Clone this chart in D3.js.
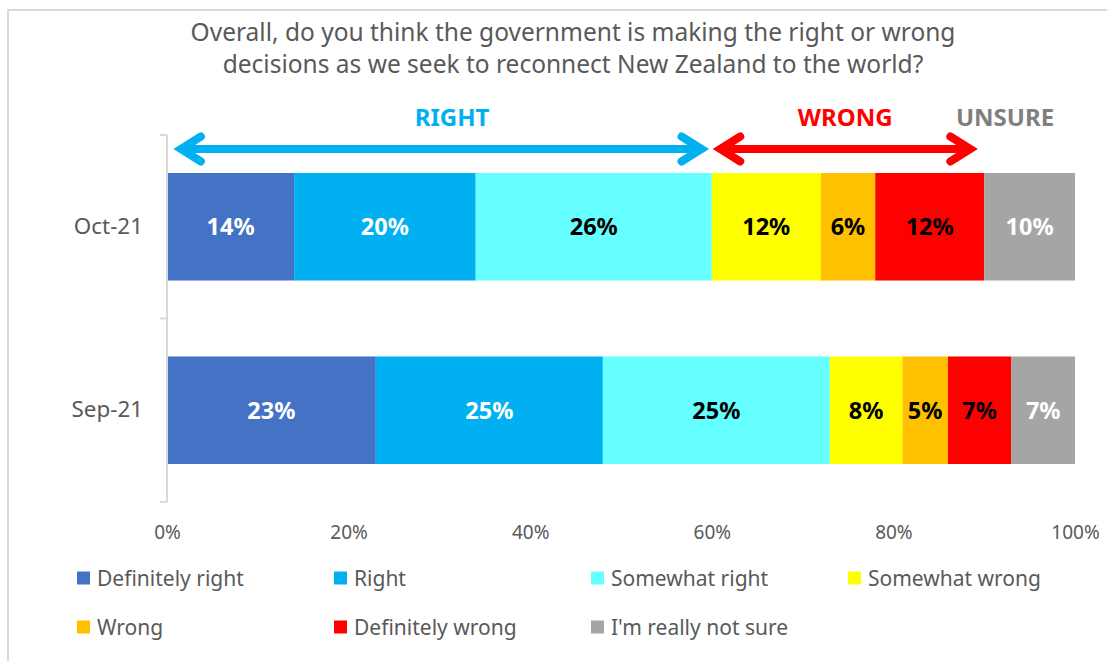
<!DOCTYPE html>
<html>
<head>
<meta charset="utf-8">
<script src="https://cdn.jsdelivr.net/npm/d3@7"></script>
<style>
  html, body { margin: 0; padding: 0; background: #fff; }
  svg { display: block; font-family: "Noto Sans", "Open Sans", sans-serif; }
</style>
</head>
<body>
<svg id="chart" width="1107" height="661"></svg>
<script>
// Survey waves (top to bottom)
const periods = ["Oct-21", "Sep-21"];

// Response categories in stacking order
const responses = ["Definitely right", "Right", "Somewhat right", "Somewhat wrong", "Wrong", "Definitely wrong", "I'm really not sure"];
const colors = ["#4472C4", "#00B0F0", "#66FFFF", "#FFFF00", "#FFC000", "#FF0000", "#A5A5A5"];
const labelColors = ["#FFFFFF", "#FFFFFF", "#000000", "#000000", "#000000", "#000000", "#FFFFFF"];

// Percent shares per wave, in the order of `responses`
const oct21 = [14, 20, 26, 12, 6, 12, 10];
const sep21 = [23, 25, 25, 8, 5, 7, 7];
const seriesValues = [oct21, sep21];

// Axis ticks
const tickValues = [0, 20, 40, 60, 80, 100];

// Group brackets drawn above the bars (percent units on the value axis)
const groupNames = ["RIGHT", "WRONG", "UNSURE"];
const groupColors = ["#00B0F0", "#FF0000", "#7F7F7F"];
const groupLabelAt = [31.4, 74.7, 92.3];
const groupArrowFrom = [0.7, 60.1, null];
const groupArrowTo = [59.7, 89.3, null];

const titleLines = [
  "Overall, do you think the government is making the right or wrong",
  "decisions as we seek to reconnect New Zealand to the world?"
];

const svg = d3.select("#chart");

// Outer chart frame
svg.append("rect")
  .attr("x", 8).attr("y", 10)
  .attr("width", 1120).attr("height", 680)
  .attr("fill", "none").attr("stroke", "#D9D9D9").attr("stroke-width", 2);

// Title
svg.append("g").selectAll("text").data(titleLines).join("text")
  .attr("x", 573).attr("y", (d, i) => 41 + i * 32)
  .attr("text-anchor", "middle")
  .attr("fill", "#595959")
  .style("font-size", "24.5px")
  .text(d => d);

const x = d3.scaleLinear().domain([0, 100]).range([167, 1075]);
const y = d3.scaleBand().domain(periods).range([135, 502])
  .paddingInner(0.414).paddingOuter(0.207);

// Stack layout
const rows = periods.map((p, i) => {
  const o = { period: p };
  responses.forEach((r, j) => { o[r] = seriesValues[i][j]; });
  return o;
});
const stacked = d3.stack().keys(responses)(rows);

const layers = svg.append("g").selectAll("g").data(stacked).join("g")
  .attr("fill", (d, i) => colors[i]);

layers.selectAll("rect").data(d => d).join("rect")
  .attr("x", d => x(d[0]))
  .attr("y", d => y(d.data.period))
  .attr("width", d => x(d[1]) - x(d[0]))
  .attr("height", y.bandwidth());

// Value labels
stacked.forEach((layer, i) => {
  svg.append("g").selectAll("text").data(layer).join("text")
    .attr("x", d => (x(d[0]) + x(d[1])) / 2)
    .attr("y", d => y(d.data.period) + y.bandwidth() / 2)
    .attr("dy", "0.36em")
    .attr("text-anchor", "middle")
    .attr("fill", labelColors[i])
    .style("font-size", "23.5px")
    .style("font-weight", "bold")
    .text(d => (d[1] - d[0]) + "%");
});

// Category axis
const yAxis = d3.axisLeft(y).tickSize(0).tickPadding(24);
const yg = svg.append("g").attr("transform", `translate(${x(0)},0)`).call(yAxis);
yg.select(".domain").remove();
yg.selectAll("text").attr("fill", "#595959").style("font-size", "22.4px")
  .style("font-family", "'Noto Sans', sans-serif");
const axisColor = "#D9D9D9";
svg.append("line")
  .attr("x1", x(0)).attr("x2", x(0))
  .attr("y1", y.range()[0]).attr("y2", y.range()[1])
  .attr("stroke", axisColor).attr("stroke-width", 2);
const boundaries = [y.range()[0], (y(periods[0]) + y.bandwidth() + y(periods[1])) / 2, y.range()[1]];
svg.append("g").selectAll("line").data(boundaries).join("line")
  .attr("x1", x(0) - 7).attr("x2", x(0))
  .attr("y1", d => d).attr("y2", d => d)
  .attr("stroke", axisColor).attr("stroke-width", 2);

// Value axis labels (no line)
const xAxis = d3.axisBottom(x).tickValues(tickValues).tickSize(0).tickPadding(0)
  .tickFormat(d => d + "%");
const xg = svg.append("g").attr("transform", "translate(0,525)").call(xAxis);
xg.select(".domain").remove();
xg.selectAll("text").attr("fill", "#595959").style("font-size", "19px")
  .style("font-family", "'Noto Sans', sans-serif");

// Group brackets
const arrowY = 149;
const sw = 8;
const head = { len: 20, half: 12.5 };
const tipOffset = (sw / 2) / Math.sin(Math.atan(head.half / head.len));
groupNames.forEach((name, i) => {
  const g = svg.append("g");
  g.append("text")
    .attr("x", x(groupLabelAt[i])).attr("y", 126)
    .attr("text-anchor", "middle")
    .attr("fill", groupColors[i])
    .style("font-size", "24px").style("font-weight", "bold")
    .text(name);
  if (groupArrowFrom[i] !== null) {
    const a = x(groupArrowFrom[i]) + tipOffset, b = x(groupArrowTo[i]) - tipOffset;
    const path = d3.path();
    path.moveTo(a, arrowY); path.lineTo(b, arrowY);
    path.moveTo(a + head.len, arrowY - head.half); path.lineTo(a, arrowY); path.lineTo(a + head.len, arrowY + head.half);
    path.moveTo(b - head.len, arrowY - head.half); path.lineTo(b, arrowY); path.lineTo(b - head.len, arrowY + head.half);
    g.append("path").attr("d", path.toString())
      .attr("fill", "none").attr("stroke", groupColors[i])
      .attr("stroke-width", sw).attr("stroke-linecap", "round").attr("stroke-linejoin", "miter");
  }
});

// Legend: 4 columns, 2 rows
const legend = svg.append("g").selectAll("g").data(responses).join("g")
  .attr("transform", (d, i) => `translate(${77 + (i % 4) * 257},${578 + Math.floor(i / 4) * 49})`);
legend.append("rect")
  .attr("x", 0).attr("y", -6.5).attr("width", 13).attr("height", 13)
  .attr("fill", (d, i) => colors[i]);
legend.append("text")
  .attr("x", 20).attr("dy", "0.36em")
  .attr("fill", "#595959")
  .style("font-size", "21px")
  .text(d => d);
</script>
</body>
</html>
